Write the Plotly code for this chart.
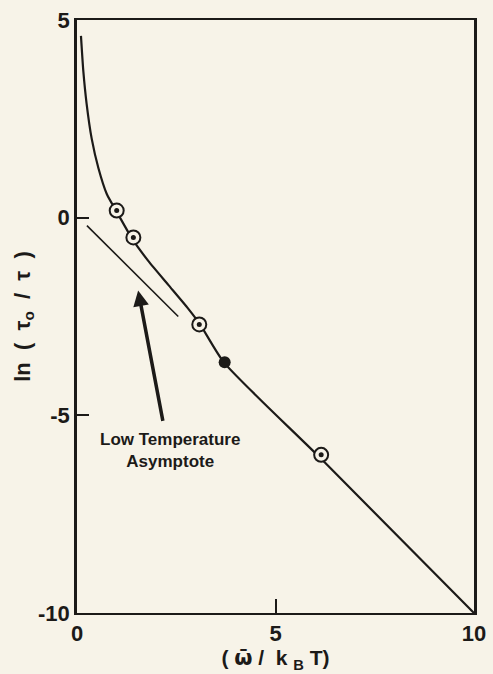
import plotly.graph_objects as go

# curve
curve_x = [0.10, 0.16, 0.24, 0.37, 0.54, 0.75, 1.00, 1.40, 1.80, 2.30, 2.80, 3.10, 3.70, 6.10, 10.0]
curve_y = [4.60, 3.70, 2.90, 2.00, 1.25, 0.60, 0.15, -0.55, -1.10, -1.70, -2.30, -2.70, -3.66, -6.05, -10.0]

# low temperature asymptote
asym_x = [0.25, 2.55]
asym_y = [-0.20, -2.50]

# measured points (open circle with dot) and the filled one
open_x = [1.0, 1.42, 3.08, 6.15]
open_y = [0.18, -0.50, -2.70, -6.00]
solid_x = [3.72]
solid_y = [-3.66]

# tick labels
x_ticks = [0, 5, 10]
y_ticks = [-10, -5, 0, 5]
y_ticktext = ["-10", "-5", "0", "5"]

bg = "#f7f3e8"
ink = "#1c1a18"
font = "Liberation Sans"

fig = go.Figure()
fig.add_trace(go.Scatter(x=curve_x, y=curve_y, mode="lines",
                         line=dict(color=ink, width=2.2, shape="spline", smoothing=0.6)))
fig.add_trace(go.Scatter(x=asym_x, y=asym_y, mode="lines",
                         line=dict(color=ink, width=1.6)))
fig.add_trace(go.Scatter(x=open_x, y=open_y, mode="markers",
                         marker=dict(size=14, color=bg, line=dict(color=ink, width=2))))
fig.add_trace(go.Scatter(x=open_x, y=open_y, mode="markers",
                         marker=dict(size=5, color=ink)))
fig.add_trace(go.Scatter(x=solid_x, y=solid_y, mode="markers",
                         marker=dict(size=12, color=ink)))

fig.add_annotation(x=1.54, y=-1.84, ax=2.17, ay=-5.18, xref="x", yref="y",
                   axref="x", ayref="y", text="", showarrow=True,
                   arrowhead=2, arrowsize=0.9, arrowwidth=3.5, arrowcolor=ink)
fig.add_annotation(x=2.33, y=-5.9, xref="x", yref="y", showarrow=False,
                   text="<b>Low Temperature<br>Asymptote</b>",
                   font=dict(family=font, size=17, color=ink), align="center")

fig.update_xaxes(range=[0, 10], tickvals=x_ticks, ticks="inside", ticklen=14,
                 tickwidth=2, tickcolor=ink, showline=True, linewidth=2, linecolor=ink,
                 mirror=True, showgrid=False, zeroline=False, automargin=False,
                 tickfont=dict(family=font, size=22, color=ink, weight="bold"),
                 title=dict(text="<b>( <span style='font-family:DejaVu Sans'>ω̄</span> /  k <sub>B</sub> T)</b>",
                            standoff=2, font=dict(family=font, size=21, color=ink)))
fig.update_yaxes(range=[-10, 5], tickvals=y_ticks, ticktext=y_ticktext, ticks="inside", ticklen=12,
                 tickwidth=2, tickcolor=ink, showline=True, linewidth=2.5, linecolor=ink,
                 mirror=True, showgrid=False, zeroline=False, automargin=False,
                 tickfont=dict(family=font, size=22, color=ink, weight="bold"),
                 title=dict(text="<b>ln  (  τ<sub>o</sub>  /  τ  )</b>", standoff=2,
                            font=dict(family=font, size=22, color=ink)))

fig.update_layout(width=493, height=674, showlegend=False,
                  paper_bgcolor=bg, plot_bgcolor=bg,
                  margin=dict(l=77, r=19, t=20, b=61))

fig.write_html("out.html", config={"displayModeBar": False},
               post_script="document.body.style.margin='0';")
